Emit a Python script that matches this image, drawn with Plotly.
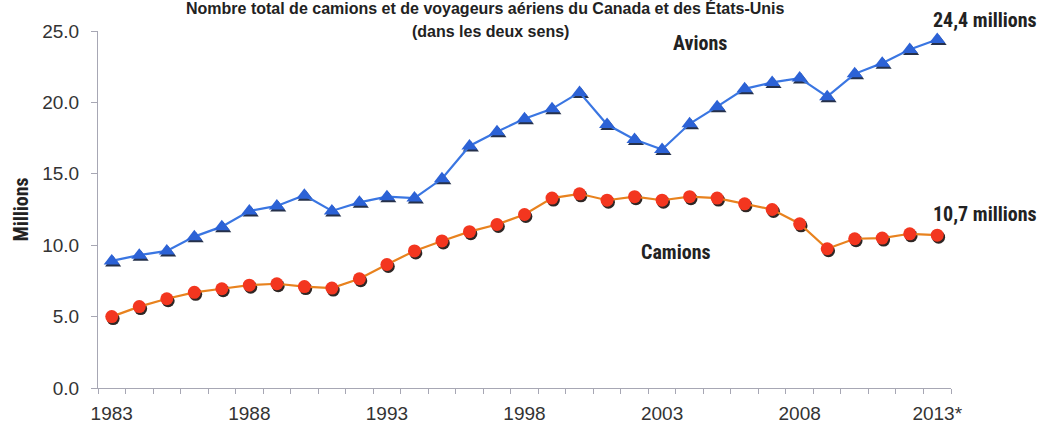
import plotly.graph_objects as go

# Annual totals, millions of crossings (both directions)
years = list(range(1983, 2014))
avions = [8.9, 9.3, 9.6, 10.6, 11.3, 12.4, 12.75, 13.5, 12.4, 13.0,
          13.4, 13.3, 14.65, 16.95, 17.95, 18.85, 19.55, 20.7, 18.45, 17.4,
          16.7, 18.5, 19.7, 20.95, 21.4, 21.7, 20.4, 22.0, 22.75, 23.7, 24.4]
camions = [5.0, 5.7, 6.25, 6.7, 6.95, 7.2, 7.3, 7.1, 7.0, 7.65,
           8.65, 9.6, 10.3, 10.95, 11.45, 12.15, 13.3, 13.6, 13.15, 13.4,
           13.15, 13.4, 13.3, 12.9, 12.5, 11.5, 9.75, 10.45, 10.5, 10.8, 10.7]
label_years = [1983, 1988, 1993, 1998, 2003, 2008, 2013]
label_text = ["1983", "1988", "1993", "1998", "2003", "2008", "2013*"]
y_ticks = [0, 5, 10, 15, 20, 25]

X_RANGE = [1982.5, 2013.5]
Y_RANGE = [0, 25]
# drop-shadow layer: same scale, nudged so markers land slightly right/below
SHADOW_DX = 0.05
SHADOW_DY = 0.14

TICK_FONT = dict(family="Liberation Sans, Arial, sans-serif", size=19, color="#333333")
BOLD = "Liberation Sans Narrow, Roboto Condensed, Liberation Sans, Arial, sans-serif"
TITLE_FONT = dict(family="Liberation Sans, Arial, sans-serif", size=16, color="#222222")
LABEL_FONT = dict(family=BOLD, size=20, color="#222222")
AXIS_COLOR = "#a7a7b4"

L, R, T, B = 98, 102, 31, 38
PLOT_W = 1053 - L - R

fig = go.Figure()

# marker shadows (base layer, hidden axes)
fig.add_trace(go.Scatter(
    x=years, y=avions, mode="markers", xaxis="x", yaxis="y",
    marker=dict(symbol="triangle-up", size=14, color="#25304a"),
    hoverinfo="skip", showlegend=False))
fig.add_trace(go.Scatter(
    x=years, y=camions, mode="markers", xaxis="x", yaxis="y",
    marker=dict(symbol="circle", size=13, color="#2e2624"),
    hoverinfo="skip", showlegend=False))

# series (top layer, visible axes)
fig.add_trace(go.Scatter(
    x=years, y=avions, mode="lines+markers", name="Avions", xaxis="x2", yaxis="y2",
    line=dict(color="#3a76e2", width=2.2),
    marker=dict(symbol="triangle-up", size=14, color="#2c62d6"),
    showlegend=False))
fig.add_trace(go.Scatter(
    x=years, y=camions, mode="lines+markers", name="Camions", xaxis="x2", yaxis="y2",
    line=dict(color="#e8821e", width=2.2),
    marker=dict(symbol="circle", size=13, color="#f3361f"),
    showlegend=False))

fig.update_layout(
    width=1053, height=426,
    margin=dict(l=L, r=R, t=T, b=B, autoexpand=False),
    paper_bgcolor="white", plot_bgcolor="white",
    xaxis=dict(range=[X_RANGE[0] - SHADOW_DX, X_RANGE[1] - SHADOW_DX],
               visible=False, showgrid=False, zeroline=False, automargin=False),
    yaxis=dict(range=[Y_RANGE[0] + SHADOW_DY, Y_RANGE[1] + SHADOW_DY],
               visible=False, showgrid=False, zeroline=False, automargin=False),
    xaxis2=dict(
        overlaying="x", anchor="y2", side="bottom", automargin=False,
        range=X_RANGE, tickmode="array", tickvals=label_years, ticktext=label_text,
        ticks="", tickfont=TICK_FONT, ticklabelstandoff=8,
        showgrid=False, zeroline=False,
        showline=True, linecolor=AXIS_COLOR, linewidth=1,
        minor=dict(tick0=1982.5, dtick=1, ticks="outside", ticklen=5,
                   tickcolor=AXIS_COLOR, tickwidth=1, showgrid=False),
    ),
    yaxis2=dict(
        overlaying="y", anchor="x2", side="left", automargin=False,
        range=Y_RANGE, tickmode="array", tickvals=y_ticks, tickformat=".1f",
        ticks="outside", ticklen=6, tickcolor=AXIS_COLOR, tickfont=TICK_FONT,
        ticklabelstandoff=8,
        showgrid=False, zeroline=False, showline=True, linecolor=AXIS_COLOR,
        linewidth=1,
    ),
)

annotations = [
    dict(text="<b>Nombre total de camions et de voyageurs aériens du Canada et des États-Unis</b>",
         xref="paper", yref="paper", x=(485 - L) / PLOT_W, y=1, yshift=23,
         xanchor="center", yanchor="middle", showarrow=False, font=TITLE_FONT),
    dict(text="<b>(dans les deux sens)</b>",
         xref="paper", yref="paper", x=(490 - L) / PLOT_W, y=1, yshift=0,
         xanchor="center", yanchor="middle", showarrow=False, font=TITLE_FONT),
    dict(text="<b>Millions</b>", textangle=-90,
         xref="paper", yref="paper", x=(20 - L) / PLOT_W, y=0.5,
         xanchor="center", yanchor="middle", showarrow=False, font=LABEL_FONT),
    dict(text="<b>Avions</b>", x=2004.36, y=24.14, xref="x2", yref="y2",
         showarrow=False, font=LABEL_FONT),
    dict(text="<b>Camions</b>", x=2003.49, y=9.5, xref="x2", yref="y2",
         showarrow=False, font=LABEL_FONT),
    dict(text="<b>24,4 millions</b>", x=years[-1], y=avions[-1], xref="x2", yref="y2",
         xanchor="left", xshift=-6, yshift=20,
         showarrow=False, font=LABEL_FONT),
    dict(text="<b>10,7 millions</b>", x=years[-1], y=camions[-1], xref="x2", yref="y2",
         xanchor="left", xshift=-6, yshift=21,
         showarrow=False, font=LABEL_FONT),
]
fig.update_layout(annotations=annotations)

fig.write_html("out.html")
